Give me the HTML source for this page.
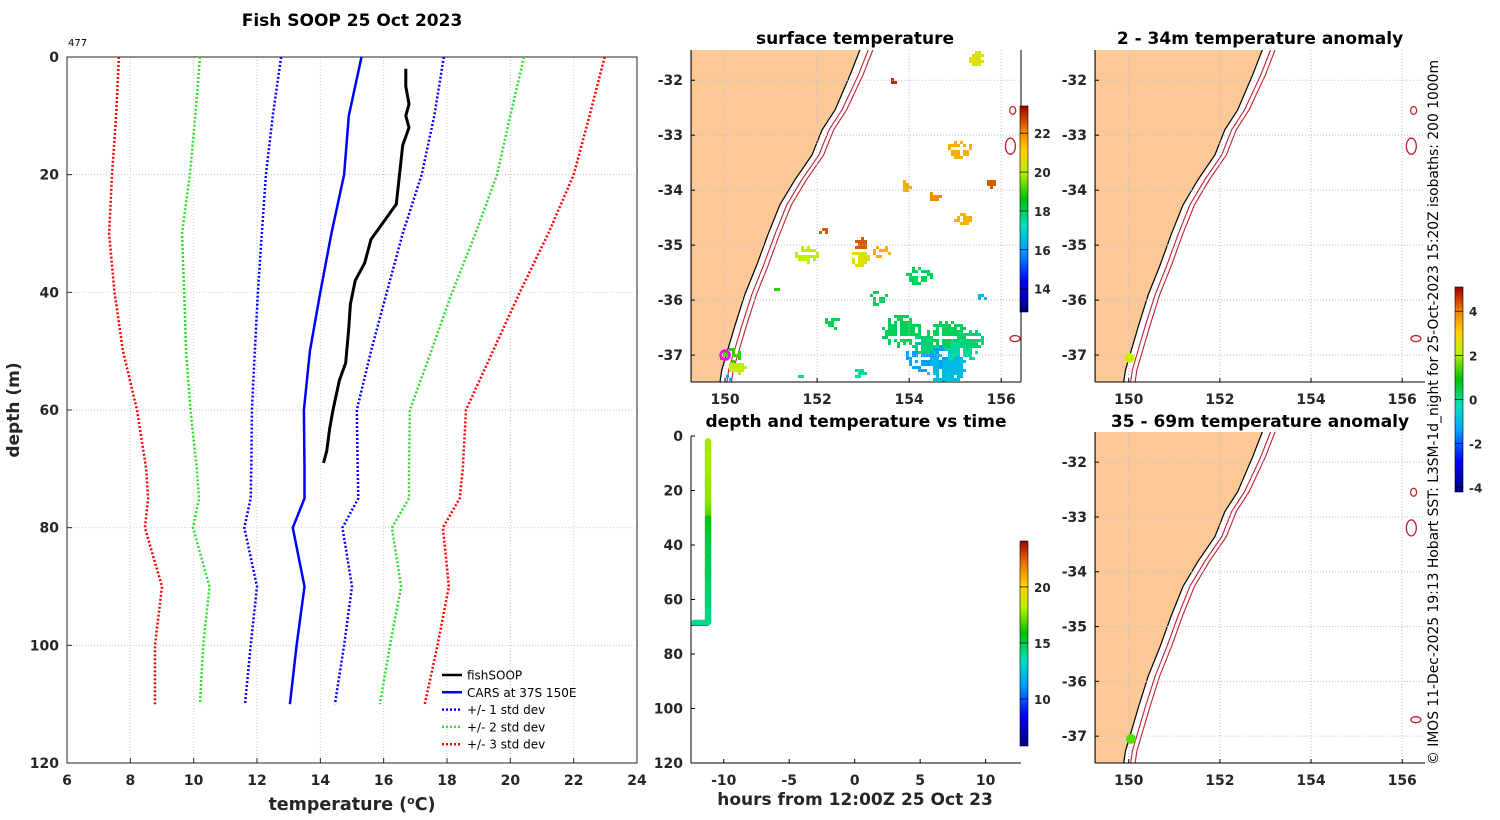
<!DOCTYPE html>
<html><head><meta charset="utf-8">
<style>
html,body{margin:0;padding:0;background:#fff;}
svg{display:block;font-family:"DejaVu Sans","Liberation Sans",sans-serif;}
.tk{font-size:14px;font-weight:bold;fill:#262626;}
.ttl{font-size:17px;font-weight:bold;fill:#000;}
</style></head>
<body>
<svg id="svg" width="1500" height="820" xmlns="http://www.w3.org/2000/svg">
<defs>
<linearGradient id="jetv" x1="0" y1="1" x2="0" y2="0">
<stop offset="0" stop-color="#00007f"/><stop offset="0.15" stop-color="#0000ff"/><stop offset="0.3" stop-color="#00a0ff"/><stop offset="0.42" stop-color="#00e0c0"/><stop offset="0.55" stop-color="#00c000"/><stop offset="0.68" stop-color="#c0f000"/><stop offset="0.78" stop-color="#ffd000"/><stop offset="0.88" stop-color="#f08000"/><stop offset="1" stop-color="#a00000"/>
</linearGradient>
</defs>
<g id="g"></g>
<text x="1438" y="765" transform="rotate(-90 1438 765)" font-size="13.8" textLength="705" lengthAdjust="spacingAndGlyphs" fill="#000">© IMOS 11-Dec-2025 19:13 Hobart SST: L3SM-1d_night for 25-Oct-2023 15:20Z isobaths: 200  1000m</text>
</svg>
<script>
// ---------- profile data ----------
const fishDepth=[2,5,8,10,12,15,20,25,28,31,35,38,42,46,52,55,60,63,67,69];
const fishTemp=[16.7,16.7,16.8,16.7,16.8,16.6,16.5,16.4,16.0,15.6,15.4,15.1,14.95,14.9,14.8,14.6,14.4,14.3,14.2,14.1];
const carsDepth=[0,10,20,30,40,50,60,70,75,80,90,100,110];
const carsTemp=[15.3,14.9,14.75,14.35,14.0,13.67,13.48,13.5,13.5,13.13,13.5,13.25,13.04];
const sd1Lo=[12.76,12.5,12.28,12.15,12.03,11.93,11.84,11.82,11.8,11.6,12.0,11.8,11.62];
const sd1Hi=[17.9,17.6,17.2,16.6,16.1,15.6,15.15,15.18,15.2,14.7,15.0,14.75,14.46];
const sd2Lo=[10.2,10.05,9.88,9.63,9.7,9.76,9.9,10.1,10.17,9.98,10.5,10.3,10.2];
const sd2Hi=[20.43,20.0,19.58,18.9,18.16,17.5,16.83,16.8,16.8,16.26,16.55,16.2,15.88];
const sd3Lo=[7.64,7.55,7.42,7.33,7.5,7.77,8.21,8.5,8.56,8.46,9.0,8.78,8.78];
const sd3Hi=[22.98,22.5,22.0,21.2,20.3,19.45,18.6,18.5,18.4,17.87,18.06,17.7,17.3];
const tempTicks=[6,8,10,12,14,16,18,20,22,24];
const depthTicks=[0,20,40,60,80,100,120];
const timeHours=-11.2;
// surface temperature patches: [lon, lat, radiusDeg, temp]
const sstLon=[155.43,153.63,155.06,155.76,155.17,152.11,151.74,152.93,153.37,152.9,154.19,153.3,153.8,154.78,155.1,154.35,154.78,150.1,150.25,150.0,151.6,152.9,155.55,153.9,154.5,151.1,152.3,154.3,155.3];
const sstLat=[-31.58,-32.0,-33.23,-33.85,-34.5,-34.7,-35.14,-34.96,-35.1,-35.23,-35.54,-35.94,-36.54,-36.63,-36.9,-36.99,-37.2,-37.0,-37.2,-37.4,-37.35,-37.3,-35.95,-33.9,-34.1,-35.8,-36.4,-36.8,-36.7];
const sstRad=[0.2,0.1,0.28,0.12,0.2,0.1,0.25,0.18,0.18,0.22,0.28,0.2,0.45,0.45,0.38,0.45,0.45,0.22,0.2,0.1,0.08,0.15,0.12,0.15,0.15,0.08,0.18,0.3,0.3];
const sstVal=[20.5,23,21.5,22.5,21.5,22.5,20,22.5,21.5,20.5,18,18,18,18,17.5,16,16.5,19,20,16,17.5,17.5,16.5,21.5,22,19,18,17.8,17.8];
// coastline lon/lat
const coastLon=[153.1,152.93,152.72,152.39,152.11,151.89,151.52,151.19,150.93,150.69,150.43,150.22,150.06,149.93,149.89,149.86];
const coastLat=[-31.2,-31.45,-31.9,-32.54,-32.9,-33.36,-33.81,-34.27,-34.81,-35.36,-35.9,-36.45,-36.9,-37.27,-37.49,-37.7];

const NS='http://www.w3.org/2000/svg';
const G=document.getElementById('g');
function el(t,a,p){const e=document.createElementNS(NS,t);for(const k in a)e.setAttribute(k,a[k]);(p||G).appendChild(e);return e;}
function txt(x,y,s,a,p){const e=el('text',Object.assign({x:x,y:y},a),p);e.textContent=s;return e;}
function jet(v,lo,hi){let t=Math.max(0,Math.min(1,(v-lo)/(hi-lo)));
 const st=[[0,[0,0,127]],[0.15,[0,0,255]],[0.3,[0,160,255]],[0.42,[0,224,192]],[0.55,[0,192,0]],[0.68,[192,240,0]],[0.78,[255,208,0]],[0.88,[240,128,0]],[1,[160,0,0]]];
 for(let i=1;i<st.length;i++){if(t<=st[i][0]){const f=(t-st[i-1][0])/(st[i][0]-st[i-1][0]);const a=st[i-1][1],b=st[i][1];return 'rgb('+a.map((c,j)=>Math.round(c+(b[j]-c)*f)).join(',')+')';}}return 'rgb(160,0,0)';}

// ---------- profile panel ----------
const PX0=67,PX1=637,PY0=57,PY1=763;
const xT=v=>PX0+(v-6)/18*(PX1-PX0);
const yD=v=>PY0+v/120*(PY1-PY0);
const prof=el('g',{});


tempTicks.forEach((t,i)=>{if(t>6&&t<24){const l=el('line',{x1:xT(t),x2:xT(t),y1:PY0,y2:PY1,stroke:i%2?'#b8c4e8':'#e8c8b0','stroke-dasharray':'1,2','stroke-width':1},prof);}
 const tl=txt(xT(t),PY1+22,t,{class:'tk','text-anchor':'middle'},prof);
 el('line',{x1:xT(t),x2:xT(t),y1:PY1,y2:PY1-5,stroke:'#262626'},prof);});
depthTicks.forEach((d,i)=>{if(d>0&&d<120){const l=el('line',{x1:PX0,x2:PX1,y1:yD(d),y2:yD(d),stroke:i%2?'#b8c4e8':'#e8c8b0','stroke-dasharray':'1,2'},prof);}
 const tl=txt(PX0-8,yD(d)+5,d,{class:'tk','text-anchor':'end'},prof);
 el('line',{x1:PX0,x2:PX0+5,y1:yD(d),y2:yD(d),stroke:'#262626'},prof);});
const box=el('rect',{x:PX0,y:PY0,width:PX1-PX0,height:PY1-PY0,fill:'none',stroke:'#262626'},prof);

function pl(xs,ds,col,dash,w,name){const pts=xs.map((v,i)=>xT(v).toFixed(1)+','+yD(ds[i]).toFixed(1)).join(' ');
 const p=el('polyline',{points:pts,fill:'none',stroke:col,'stroke-width':w,'stroke-dasharray':dash||'none'},prof);
 }
pl(sd3Lo,carsDepth,'#ff0000','2,2',2.5,'sd3-lower-line');pl(sd3Hi,carsDepth,'#ff0000','2,2',2.5,'sd3-upper-line');
pl(sd2Lo,carsDepth,'#33dd33','2,2',2.5,'sd2-lower-line');pl(sd2Hi,carsDepth,'#33dd33','2,2',2.5,'sd2-upper-line');
pl(sd1Lo,carsDepth,'#0000ff','2,2',2.5,'sd1-lower-line');pl(sd1Hi,carsDepth,'#0000ff','2,2',2.5,'sd1-upper-line');
pl(carsTemp,carsDepth,'#0000ff','',2.5,'cars-line');
pl(fishTemp,fishDepth,'#000','',3,'fishsoop-line');
const t1=txt(352,26,'Fish SOOP 25 Oct 2023',{class:'ttl','text-anchor':'middle','font-size':18},prof);
const t2=txt(68,46,'477',{'font-size':10,fill:'#000'},prof);
const xl=txt(352,810,'',{'font-size':17.5,'font-weight':'bold','text-anchor':'middle',fill:'#262626'},prof);
xl.innerHTML='temperature (<tspan baseline-shift="super" font-size="11">o</tspan>C)';

const yl=txt(19,410,'depth (m)',{'font-size':17,'font-weight':'bold','text-anchor':'middle',fill:'#262626',transform:'rotate(-90 19 410)'},prof);

const leg=el('g',{},prof);
const legItems=[['fishSOOP','#000',''],['CARS at 37S 150E','#0000ff',''],['+/- 1 std dev','#0000ff','2,2'],['+/- 2 std dev','#33dd33','2,2'],['+/- 3 std dev','#ff0000','2,2']];
legItems.forEach((it,i)=>{const y=675+i*17.3;const ge=el('g',{},leg);
 el('line',{x1:442,x2:462,y1:y,y2:y,stroke:it[1],'stroke-width':2.5,'stroke-dasharray':it[2]||'none'},ge);
 txt(467,y+4.5,it[0],{'font-size':12,fill:'#000'},ge);});

// ---------- maps ----------
function mapPanel(x0,x1,y0,y1,lon0,lon1,lat0,lat1,name,rightAxis,yticks){
 const g=el('g',{});
 const X=lo=>x0+(lo-lon0)/(lon1-lon0)*(x1-x0), Y=la=>y0+(lat0-la)/(lat0-lat1)*(y1-y0);
 const cpth=el('clipPath',{id:'c'+name},g);el('rect',{x:x0,y:y0,width:x1-x0,height:y1-y0},cpth);
 const inner=el('g',{'clip-path':'url(#c'+name+')'},g);
 let d='M'+x0+','+(y0-50);coastLon.forEach((lo,i)=>{d+=' L'+X(lo).toFixed(1)+','+Y(coastLat[i]).toFixed(1);});d+=' L'+x0+','+(y1+50)+'Z';
 const land=el('path',{d:d,fill:'#fbc896',stroke:'#000','stroke-width':1.2},inner);
 [0.15,0.25].forEach((off,k)=>{let s='';coastLon.forEach((lo,i)=>{s+=(i?' L':'M')+X(lo+off+(i<3?0.03:0)).toFixed(1)+','+Y(coastLat[i]).toFixed(1);});
  const iso=el('path',{d:s,fill:'none',stroke:'#c02030','stroke-width':1.1},inner);});
 [[156.25,-32.55,3,4],[156.2,-33.2,5,8],[156.3,-36.7,5,3]].forEach(a=>{const e=el('ellipse',{cx:X(a[0]),cy:Y(a[1]),rx:a[2],ry:a[3],fill:'none',stroke:'#c02030','stroke-width':1.3},inner);});
 [150,152,154,156].forEach(lo=>{el('line',{x1:X(lo),x2:X(lo),y1:y0,y2:y1,stroke:'#b8c0e0','stroke-dasharray':'1,2'},g);el('line',{x1:X(lo),x2:X(lo),y1:y1,y2:y1-4,stroke:'#000'},g);
  const t=txt(X(lo),y1+22,lo,{class:'tk','text-anchor':'middle'},g);});
 yticks.forEach(la=>{el('line',{x1:x0,x2:x1,y1:Y(la),y2:Y(la),stroke:'#b8c0e0','stroke-dasharray':'1,2'},g);el('line',{x1:x0,x2:x0+4,y1:Y(la),y2:Y(la),stroke:'#000'},g);
  const t=txt(x0-8,Y(la)+5,la,{class:'tk','text-anchor':'end'},g);});
 el('line',{x1:x0,x2:x0,y1:y0,y2:y1,stroke:'#000'},g);el('line',{x1:x0,x2:x1,y1:y1,y2:y1,stroke:'#000'},g);
 if(rightAxis)el('line',{x1:x1,x2:x1,y1:y0,y2:y1,stroke:'#000'},g);
 return {g,inner,X,Y};
}
const lats=[-32,-33,-34,-35,-36,-37];
const M1=mapPanel(691,1021,50,382,149.26,156.43,-31.45,-37.49,'surface-temperature-map',true,lats);
const cell=3;
sstLon.forEach((lo,i)=>{const cx=M1.X(lo),cy=M1.Y(sstLat[i]);const r=sstRad[i]*46;
 for(let gx=Math.floor((cx-r)/cell)*cell;gx<cx+r;gx+=cell)for(let gy=Math.floor((cy-r*0.75)/cell)*cell;gy<cy+r*0.75;gy+=cell){
  const dx=(gx-cx)/r,dy=(gy-cy)/(r*0.75);const h=Math.abs(gx*7+gy*13+gx*gy)%7;
  const rr=dx*dx+dy*dy;
  if(rr<1 && (rr<0.5 ? h!==0 : h<3)){const rc=el('rect',{x:gx,y:gy,width:cell,height:cell,fill:jet(sstVal[i],12.8,23.4)},M1.inner);
   }}});
el('circle',{cx:M1.X(150.0),cy:M1.Y(-37.0),r:4.5,fill:'none',stroke:'#ff00ff','stroke-width':2.5},M1.g);
txt(855,44,'surface temperature',{class:'ttl','text-anchor':'middle'},M1.g);
function cbar(x,y0,y1,lo,hi,ticks,name){const g=el('g',{});
 el('rect',{x:x,y:y0,width:8,height:y1-y0,fill:'url(#jetv)',stroke:'#000','stroke-width':0.6},g);
 ticks.forEach(t=>{const y=y1-(t-lo)/(hi-lo)*(y1-y0);el('line',{x1:x,x2:x+8,y1:y,y2:y,stroke:'#000','stroke-width':0.7},g);
  txt(x+14,y+5,t,{'font-size':12,'font-weight':'bold',fill:'#262626'},g);});}
cbar(1020,106,312,12.8,23.4,[14,16,18,20,22],'sst-colorbar');

const M2=mapPanel(1095,1425,50,382,149.26,156.5,-31.45,-37.49,'anomaly-map-2-34m',false,lats);
txt(1260,44,'2 - 34m temperature anomaly',{class:'ttl','text-anchor':'middle'},M2.g);
el('circle',{cx:M2.X(150.02),cy:M2.Y(-37.05),r:5,fill:'#c8f000'},M2.g);
const M3=mapPanel(1095,1425,432,763,149.26,156.5,-31.45,-37.49,'anomaly-map-35-69m',false,lats);
txt(1260,427,'35 - 69m temperature anomaly',{class:'ttl','text-anchor':'middle'},M3.g);
el('circle',{cx:M3.X(150.05),cy:M3.Y(-37.05),r:5,fill:'#50e000'},M3.g);
cbar(1455,287,492,-4.2,5.1,[-4,-2,0,2,4],'anomaly-colorbar');

// ---------- depth vs time ----------
const TX0=691,TX1=1021,TY0=436,TY1=763;
const xH=h=>TX0+(h+12.5)/25.2*(TX1-TX0);
const yT=d=>TY0+d/120*(TY1-TY0);
const tg=el('g',{});
[-10,-5,0,5,10].forEach(h=>{el('line',{x1:xH(h),x2:xH(h),y1:TY1,y2:TY1-4,stroke:'#000'},tg);
 txt(xH(h),TY1+22,h,{class:'tk','text-anchor':'middle'},tg);});
depthTicks.forEach(d=>{el('line',{x1:TX0,x2:TX0+4,y1:yT(d),y2:yT(d),stroke:'#000'},tg);
 txt(TX0-8,yT(d)+5,d,{class:'tk','text-anchor':'end'},tg);});
el('line',{x1:TX0,x2:TX0,y1:TY0,y2:TY1,stroke:'#000'},tg);el('line',{x1:TX0,x2:TX1,y1:TY1,y2:TY1,stroke:'#000'},tg);
el('line',{x1:TX0,x2:xH(timeHours),y1:yT(69.5),y2:yT(69.5),stroke:'#000'},tg);
for(let i=0;i<fishDepth.length-1;i++){const n=Math.ceil((fishDepth[i+1]-fishDepth[i])/0.8);
 for(let k=0;k<n;k++){const f=k/n;const d=fishDepth[i]+(fishDepth[i+1]-fishDepth[i])*f;const t=fishTemp[i]+(fishTemp[i+1]-fishTemp[i])*f;
  const c=el('circle',{cx:xH(timeHours),cy:yT(d),r:3.3,fill:jet(t+1.2*(d<30?1:0),5.8,24.1)},tg);}}
for(let h=timeHours;h>=-12.3;h-=0.15){el('circle',{cx:xH(h),cy:yT(68.5),r:3,fill:jet(14.1,5.8,24.1)},tg);}
txt(856,427,'depth and temperature vs time',{class:'ttl','text-anchor':'middle'},tg);
txt(855,805,'hours from 12:00Z 25 Oct 23',{'font-size':17,'font-weight':'bold','text-anchor':'middle',fill:'#262626'},tg);
cbar(1020,541,746,5.8,24.1,[10,15,20],'depth-time-colorbar');
</script>
</body></html>
